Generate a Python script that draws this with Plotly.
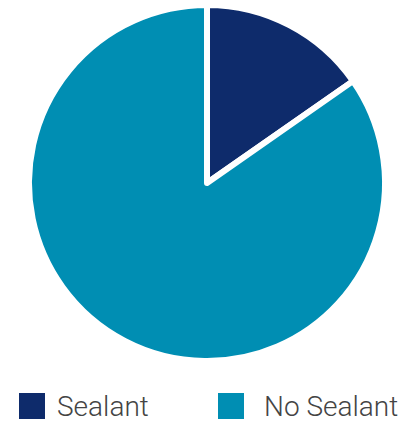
import plotly.graph_objects as go

categories = ["Sealant", "No Sealant"]
values = [15.3, 84.7]
colors = ["#0E2B6B", "#008EB3"]

W, H = 406, 424

fig = go.Figure()
fig.add_trace(go.Pie(
    labels=categories,
    values=values,
    sort=False,
    direction="clockwise",
    rotation=0,
    textinfo="none",
    hoverinfo="label+percent",
    marker=dict(colors=colors, line=dict(color="white", width=6)),
    domain=dict(x=[29 / W, 385 / W], y=[63 / H, 419 / H]),
    showlegend=False,
))

# manual legend (large square swatches)
legend_x = [19, 218]
legend_text_x = [55, 262]
sq = 26
yc = 406
shapes = []
annotations = []
for i, cat in enumerate(categories):
    shapes.append(dict(type="rect", xref="paper", yref="paper",
                       x0=legend_x[i] / W, x1=(legend_x[i] + sq) / W,
                       y0=(H - yc - sq / 2) / H, y1=(H - yc + sq / 2) / H,
                       fillcolor=colors[i], line=dict(width=0)))
    annotations.append(dict(text=cat, xref="paper", yref="paper",
                            x=legend_text_x[i] / W, y=(H - yc) / H,
                            xanchor="left", yanchor="middle", showarrow=False,
                            font=dict(family="Roboto", size=28, color="#444444", weight=300)))

fig.update_layout(
    width=W, height=H,
    margin=dict(l=0, r=0, t=0, b=0),
    paper_bgcolor="white",
    plot_bgcolor="white",
    shapes=shapes,
    annotations=annotations,
)

fig.write_html("out.html")
